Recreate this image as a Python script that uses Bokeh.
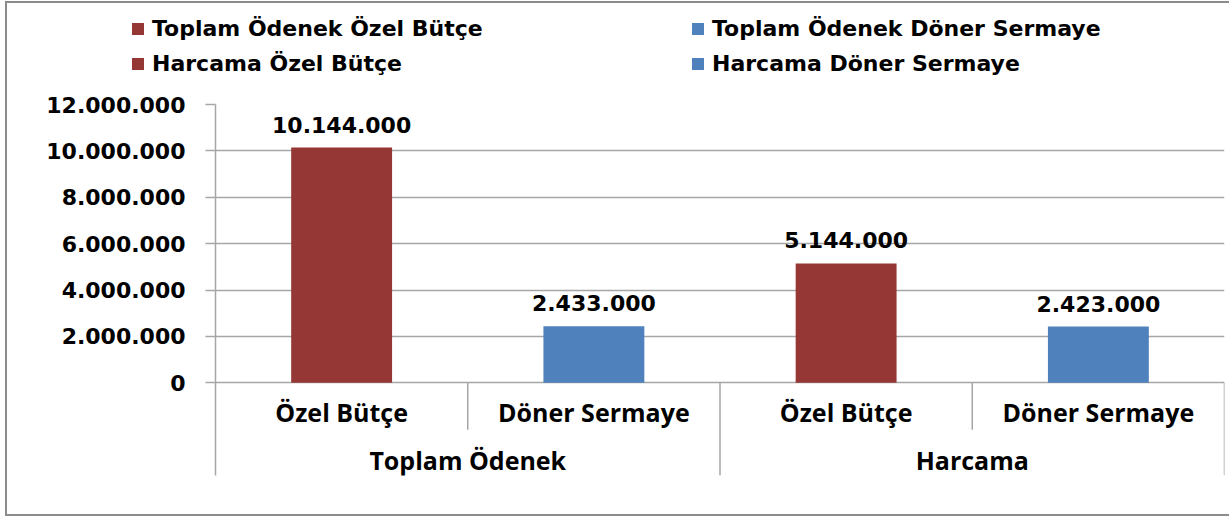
from bokeh.plotting import figure
from bokeh.models import (FactorRange, Range1d, ColumnDataSource, FixedTicker,
                          CustomJSTickFormatter, Legend, LegendItem)
from bokeh.layouts import column
from bokeh.core.properties import value
from bokeh.embed import file_html
from bokeh.resources import INLINE

# ---- data ----
groups = ["Toplam Ödenek", "Harcama"]
categories = ["Özel Bütçe", "Döner Sermaye"]
values = [10144000, 2433000, 5144000, 2423000]
series_names = ["Toplam Ödenek Özel Bütçe", "Toplam Ödenek Döner Sermaye",
                "Harcama Özel Bütçe", "Harcama Döner Sermaye"]
colors = ["#953735", "#4F81BD", "#953735", "#4F81BD"]
y_ticks = [0, 2000000, 4000000, 6000000, 8000000, 10000000, 12000000]

# ---- layout constants ----
Y_MIN = -4000000          # room below zero for the category labels
CAT_LABEL_Y = -1250000
GROUP_LABEL_Y = -3320000
INNER_DIV_Y = -2030000
GRID = "#A6A6A6"
BIG_FONT = "DejaVu Sans"
CAT_FONT = "Open Sans"
PAD_L, PAD_T = 5, 1       # outer chart-area border offset
BORDER = 2
W = 1222
TOP_H = 77
MAIN_H = 434

factors = [(g, c) for g in groups for c in categories]
xr = FactorRange(*factors, factor_padding=0, group_padding=0, range_padding=0)

src = ColumnDataSource(dict(x=factors, top=values, color=colors,
                            series=series_names,
                            label=[f"{v:,}".replace(",", ".") for v in values]))

# ---------------- main chart ----------------
p = figure(width=W, height=MAIN_H, output_backend="svg", toolbar_location=None,
           x_range=xr, y_range=Range1d(Y_MIN, y_ticks[-1]),
           min_border_left=215 - PAD_L - BORDER, min_border_right=5,
           min_border_top=104 - TOP_H - PAD_T - BORDER, min_border_bottom=39)
p.outline_line_color = None
p.background_fill_color = "white"
p.border_fill_color = "white"

p.vbar(x="x", top="top", width=0.4, fill_color="color", line_color=None,
       source=src)

# value labels
p.text(x="x", y="top", text="label", source=src, text_align="center",
       text_baseline="bottom", y_offset=-15, text_font=value(BIG_FONT),
       text_font_style="bold", text_font_size="22px", text_color="black")

# category labels
p.text(x=factors, y=[CAT_LABEL_Y] * len(factors), text=[c for _, c in factors],
       text_align="center", text_baseline="middle", text_font=value(CAT_FONT),
       text_font_style="bold", text_font_size="25px", text_color="black")
# group labels
p.text(x=groups, y=[GROUP_LABEL_Y] * len(groups), text=groups,
       text_align="center", text_baseline="middle", text_font=value(CAT_FONT),
       text_font_style="bold", text_font_size="25px", text_color="black")

# divider lines in the category area
inner_x = [(g, categories[-1], -0.5) for g in groups]
p.segment(x0=inner_x, y0=[0] * len(inner_x), x1=inner_x, y1=[INNER_DIV_Y] * len(inner_x),
          line_color=GRID, line_width=1.5)
outer_x = [(g, categories[0], -0.5) for g in groups[1:]] + [(groups[-1], categories[-1], 0.5)]
p.segment(x0=outer_x, y0=[0] * len(outer_x), x1=outer_x, y1=[Y_MIN] * len(outer_x),
          line_color=GRID, line_width=1.5)

# axes
p.xaxis.visible = False
p.xgrid.visible = False
yax = p.yaxis[0]
yax.ticker = FixedTicker(ticks=y_ticks)
yax.formatter = CustomJSTickFormatter(
    code="return Math.round(tick).toString().replace(/\\B(?=(\\d{3})+(?!\\d))/g, '.');")
yax.axis_line_color = GRID
yax.axis_line_width = 1.5
yax.major_tick_line_color = GRID
yax.major_tick_line_width = 1.5
yax.major_tick_out = 10
yax.major_tick_in = 0
yax.minor_tick_line_color = None
yax.major_label_standoff = 20
yax.major_label_text_font = BIG_FONT
yax.major_label_text_font_style = "bold"
yax.major_label_text_font_size = "22px"
yax.major_label_text_color = "black"
p.ygrid.ticker = FixedTicker(ticks=y_ticks)
p.ygrid.grid_line_color = GRID
p.ygrid.grid_line_width = 1.5

# ---------------- legend strip ----------------
top = figure(width=W, height=TOP_H, output_backend="svg", toolbar_location=None,
             x_range=xr, y_range=Range1d(2 * y_ticks[-1], 3 * y_ticks[-1]),
             min_border=0)
top.frame_align = False
top.outline_line_color = None
top.axis.visible = False
top.grid.visible = False
# same bars, outside the strip's y-range: they only feed the legend swatches
legend_bars = top.vbar(x="x", top="top", width=0.4, fill_color="color",
                       line_color=None, source=src)
items = [LegendItem(label=name, renderers=[legend_bars], index=i)
         for i, name in enumerate(series_names)]
lg = Legend(items=items, orientation="horizontal", ncols=2,
            location=(130 - PAD_L - BORDER, 4), padding=0, margin=0, spacing=10,
            label_width=528,
            border_line_color=None, background_fill_alpha=0,
            glyph_width=15, glyph_height=15, label_standoff=7,
            label_text_font=BIG_FONT, label_text_font_style="bold",
            label_text_font_size="22px", label_text_color="black")
top.add_layout(lg)

layout = column(top, p, spacing=0,
                styles={"margin-left": f"{PAD_L}px", "margin-top": f"{PAD_T}px",
                        "border-left": f"{BORDER}px solid #8C8C8C",
                        "border-top": f"{BORDER}px solid #8C8C8C",
                        "border-bottom": f"{BORDER}px solid #8C8C8C"})
open("out.html", "w").write(file_html(layout, INLINE))
